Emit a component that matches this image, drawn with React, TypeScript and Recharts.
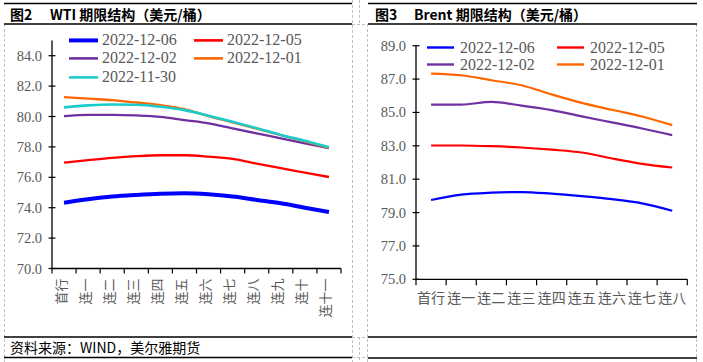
import React from 'react';
import { LineChart, Line, XAxis, YAxis, Legend } from 'recharts';

// ---------- WTI ----------
const wtiCategories = ['首行', '连一', '连二', '连三', '连四', '连五', '连六', '连七', '连八', '连九', '连十', '连十一'];
const wti1206 = [74.33, 74.55, 74.73, 74.84, 74.92, 74.95, 74.88, 74.73, 74.51, 74.29, 74.0, 73.72];
const wti1205 = [76.97, 77.13, 77.28, 77.39, 77.45, 77.45, 77.36, 77.21, 76.9, 76.6, 76.31, 76.02];
const wti1202 = [80.02, 80.11, 80.11, 80.07, 79.98, 79.76, 79.55, 79.22, 78.89, 78.56, 78.23, 77.92];
const wti1201 = [81.28, 81.17, 81.08, 80.92, 80.75, 80.49, 80.03, 79.62, 79.2, 78.77, 78.37, 77.93];
const wti1130 = [80.6, 80.73, 80.79, 80.77, 80.64, 80.42, 80.05, 79.65, 79.23, 78.79, 78.4, 77.98];
const wtiTicks = [70, 72, 74, 76, 78, 80, 82, 84];
const wtiDomain = [70, 85];

// ---------- Brent ----------
const brentCategories = ['首行', '连一', '连二', '连三', '连四', '连五', '连六', '连七', '连八'];
const brent1206 = [79.75, 80.07, 80.19, 80.23, 80.13, 79.98, 79.8, 79.55, 79.11];
const brent1205 = [83.02, 83.02, 82.98, 82.9, 82.77, 82.6, 82.24, 81.92, 81.7];
const brent1202 = [85.47, 85.47, 85.63, 85.41, 85.14, 84.76, 84.4, 84.04, 83.64];
const brent1201 = [87.33, 87.23, 86.93, 86.63, 86.08, 85.57, 85.16, 84.76, 84.24];
const brentTicks = [75, 77, 79, 81, 83, 85, 87, 89];
const brentDomain = [75, 89];

type Series = { key: string; name: string; color: string; values: number[]; width: number; legendWidth: number };

const wtiSeries: Series[] = [
  { key: 's1206', name: '2022-12-06', color: '#0000FF', values: wti1206, width: 4, legendWidth: 4 },
  { key: 's1205', name: '2022-12-05', color: '#FF0000', values: wti1205, width: 2.3, legendWidth: 2.6 },
  { key: 's1202', name: '2022-12-02', color: '#7030A0', values: wti1202, width: 2.3, legendWidth: 2.6 },
  { key: 's1201', name: '2022-12-01', color: '#FF6600', values: wti1201, width: 2.3, legendWidth: 2.6 },
  { key: 's1130', name: '2022-11-30', color: '#1CCCCC', values: wti1130, width: 2.6, legendWidth: 2.6 },
];

const brentSeries: Series[] = [
  { key: 's1206', name: '2022-12-06', color: '#0000FF', values: brent1206, width: 2.2, legendWidth: 2.4 },
  { key: 's1205', name: '2022-12-05', color: '#FF0000', values: brent1205, width: 2.2, legendWidth: 2.4 },
  { key: 's1202', name: '2022-12-02', color: '#7030A0', values: brent1202, width: 2.2, legendWidth: 2.4 },
  { key: 's1201', name: '2022-12-01', color: '#FF6600', values: brent1201, width: 2.2, legendWidth: 2.4 },
];

const buildRows = (cats: string[], series: Series[]) =>
  cats.map((c, i) => {
    const row: Record<string, any> = { cat: c };
    series.forEach((s) => {
      row[s.key] = s.values[i];
    });
    return row;
  });

const wtiData = buildRows(wtiCategories, wtiSeries);
const brentData = buildRows(brentCategories, brentSeries);

const SERIF = '"Liberation Serif", "Times New Roman", serif';
const SANS = '"Noto Sans CJK SC", "Noto Sans", sans-serif';
const GRAY = '#595959';

const YTick = (props: any) => {
  const { x, y, payload } = props;
  return (
    <g>
      <line x1={x - 3.5} x2={x + 3.5} y1={y} y2={y} stroke="#000" strokeWidth={1.2} />
      <text x={x - 10} y={y} textAnchor="end" dominantBaseline="central" fontFamily={SERIF} fontSize={14.5} fill={GRAY}>
        {Number(payload.value).toFixed(1)}
      </text>
    </g>
  );
};

const bandOf = (props: any, count: number) => {
  const { payload, width, visibleTicksCount } = props;
  if (payload && typeof payload.offset === 'number' && payload.offset > 0) return payload.offset * 2;
  if (typeof width === 'number') return width / (visibleTicksCount || count);
  return 24;
};

const WtiXTick = (props: any) => {
  const { x, y, payload, index } = props;
  const band = bandOf(props, wtiCategories.length);
  const isLast = index === wtiCategories.length - 1;
  const tx = x - 4;
  const ty = y + 10;
  return (
    <g>
      <line x1={x - band / 2} x2={x - band / 2} y1={y} y2={y + 5} stroke="#000" strokeWidth={1.2} />
      {isLast && <line x1={x + band / 2} x2={x + band / 2} y1={y} y2={y + 5} stroke="#000" strokeWidth={1.2} />}
      <text
        x={tx}
        y={ty}
        transform={`rotate(-90, ${tx}, ${ty})`}
        textAnchor="end"
        dominantBaseline="central"
        fontFamily={SANS}
        fontSize={13}
        fill={GRAY}
      >
        {payload.value}
      </text>
    </g>
  );
};

const BrentXTick = (props: any) => {
  const { x, y, payload, index } = props;
  const band = bandOf(props, brentCategories.length);
  const isLast = index === brentCategories.length - 1;
  return (
    <g>
      <line x1={x - band / 2} x2={x - band / 2} y1={y} y2={y + 6} stroke="#000" strokeWidth={1.2} />
      {isLast && <line x1={x + band / 2} x2={x + band / 2} y1={y} y2={y + 6} stroke="#000" strokeWidth={1.2} />}
      <text x={x} y={y + 18} textAnchor="middle" dominantBaseline="central" fontFamily={SANS} fontSize={14} fill={GRAY}>
        {payload.value}
      </text>
    </g>
  );
};

const makeLegend = (series: Series[], colOffset: number, rowH: number, lineW: number, gap: number, fontSize: number) => () => (
  <div style={{ position: 'relative', width: '100%', height: '100%' }}>
    {series.map((s, i) => {
      const row = Math.floor(i / 2);
      const col = i % 2;
      return (
        <div
          key={s.key}
          style={{
            position: 'absolute',
            left: col * colOffset,
            top: row * rowH,
            height: rowH,
            display: 'flex',
            alignItems: 'center',
            whiteSpace: 'nowrap',
          }}
        >
          <svg width={lineW} height={rowH} style={{ display: 'block' }}>
            <line x1={0} x2={lineW} y1={rowH / 2} y2={rowH / 2} stroke={s.color} strokeWidth={s.legendWidth} />
          </svg>
          <span style={{ marginLeft: gap, fontFamily: SERIF, fontSize, color: GRAY, lineHeight: `${rowH}px` }}>{s.name}</span>
        </div>
      );
    })}
  </div>
);

const WtiLegend = makeLegend(wtiSeries, 125, 18.8, 29, 4, 16);
const BrentLegend = makeLegend(brentSeries, 130, 17, 27, 6, 16);

const Frame = () => (
  <svg width={703} height={362} style={{ position: 'absolute', left: 0, top: 0 }}>
    <g stroke="#BFBFBF" strokeWidth={1} strokeDasharray="3 2" fill="none">
      <line x1={4.5} y1={24} x2={4.5} y2={362} />
      <line x1={352.5} y1={0} x2={352.5} y2={362} />
      <line x1={359.5} y1={0} x2={359.5} y2={24} />
      <line x1={359.5} y1={337} x2={359.5} y2={362} />
      <line x1={352} y1={24.5} x2={368} y2={24.5} />
      <line x1={352} y1={337.5} x2={368} y2={337.5} />
      <line x1={352} y1={357.5} x2={368} y2={357.5} />
      <line x1={367.5} y1={24} x2={367.5} y2={362} />
      <line x1={696.5} y1={24} x2={696.5} y2={362} />
    </g>
    <g stroke="#000" strokeWidth={1.3}>
      <line x1={4} y1={3.5} x2={352} y2={3.5} />
      <line x1={4} y1={24} x2={352} y2={24} />
      <line x1={4} y1={337} x2={352} y2={337} />
      <line x1={4} y1={357.5} x2={352} y2={357.5} />
      <line x1={368} y1={3.5} x2={697} y2={3.5} />
      <line x1={368} y1={24} x2={697} y2={24} />
      <line x1={368} y1={337} x2={697} y2={337} />
      <line x1={368} y1={358} x2={697} y2={358} />
    </g>
    <text x={10} y={13.5} dominantBaseline="central" fontFamily={SANS} fontWeight={700} fontSize={14} fill="#000">图2</text>
    <text x={50} y={13.5} dominantBaseline="central" fontFamily={SANS} fontWeight={700} fontSize={14} fill="#000">WTI 期限结构（美元/桶）</text>
    <text x={375} y={13.5} dominantBaseline="central" fontFamily={SANS} fontWeight={700} fontSize={14} fill="#000">图3</text>
    <text x={414} y={13.5} dominantBaseline="central" fontFamily={SANS} fontWeight={700} fontSize={14} fill="#000">Brent 期限结构（美元/桶）</text>
    <text x={10} y={347} dominantBaseline="central" fontFamily={SANS} fontSize={14} fill="#000">资料来源：WIND，美尔雅期货</text>
  </svg>
);

export default function App() {
  return (
    <div style={{ position: 'absolute', left: 0, top: 0, width: 703, height: 362, background: '#fff', overflow: 'hidden' }}>
      <Frame />
      <div style={{ position: 'absolute', left: 0, top: 0 }}>
        <LineChart width={360} height={362} data={wtiData} margin={{ top: 40.5, right: 19, bottom: 43.5, left: 7 }}>
          <XAxis
            dataKey="cat"
            type="category"
            scale="band"
            height={50}
            interval={0}
            axisLine={{ stroke: '#000', strokeWidth: 1.3 }}
            tickLine={false}
            tickSize={0}
            tickMargin={0}
            tick={<WtiXTick />}
          />
          <YAxis
            type="number"
            domain={wtiDomain}
            ticks={wtiTicks}
            width={45}
            interval={0}
            axisLine={{ stroke: '#000', strokeWidth: 1.3 }}
            tickLine={false}
            tickSize={0}
            tickMargin={0}
            tick={<YTick />}
          />
          <Legend
            layout="horizontal"
            verticalAlign="middle"
            align="center"
            content={<WtiLegend />}
            wrapperStyle={{ left: 69, top: 30.6, width: 270, height: 57 }}
          />
          {wtiSeries.map((s) => (
            <Line
              key={s.key}
              dataKey={s.key}
              name={s.name}
              type="monotone"
              stroke={s.color}
              strokeWidth={s.width}
              dot={false}
              activeDot={false}
              isAnimationActive={false}
            />
          ))}
        </LineChart>
      </div>
      <div style={{ position: 'absolute', left: 360, top: 0 }}>
        <LineChart width={343} height={362} data={brentData} margin={{ top: 45.7, right: 15.7, bottom: 52.7, left: 11 }}>
          <XAxis
            dataKey="cat"
            type="category"
            scale="band"
            height={30}
            interval={0}
            axisLine={{ stroke: '#000', strokeWidth: 1.3 }}
            tickLine={false}
            tickSize={0}
            tickMargin={0}
            tick={<BrentXTick />}
          />
          <YAxis
            type="number"
            domain={brentDomain}
            ticks={brentTicks}
            width={45}
            interval={0}
            axisLine={{ stroke: '#000', strokeWidth: 1.3 }}
            tickLine={false}
            tickSize={0}
            tickMargin={0}
            tick={<YTick />}
          />
          <Legend
            layout="horizontal"
            verticalAlign="middle"
            align="center"
            content={<BrentLegend />}
            wrapperStyle={{ left: 67, top: 38.5, width: 270, height: 34 }}
          />
          {brentSeries.map((s) => (
            <Line
              key={s.key}
              dataKey={s.key}
              name={s.name}
              type="monotone"
              stroke={s.color}
              strokeWidth={s.width}
              dot={false}
              activeDot={false}
              isAnimationActive={false}
            />
          ))}
        </LineChart>
      </div>
    </div>
  );
}
